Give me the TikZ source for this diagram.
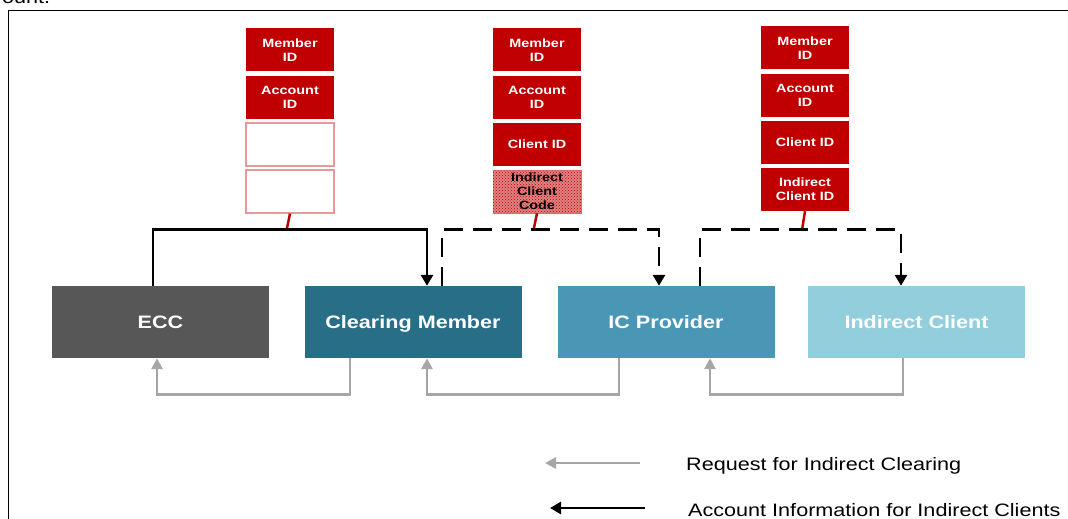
\documentclass[tikz,border=0pt]{standalone}
\usepackage{fontspec}
\setmainfont[FakeStretch=1.2]{Liberation Sans}
\usetikzlibrary{arrows.meta,patterns}
\definecolor{eccgray}{HTML}{575757}
\definecolor{cmblue}{HTML}{286E87}
\definecolor{icpblue}{HTML}{4A97B5}
\definecolor{icblue}{HTML}{93CEDD}
\definecolor{cellred}{HTML}{C00000}
\definecolor{linegray}{HTML}{A6A6A6}
\tikzset{
  party/.style={minimum width=217pt,minimum height=72pt,inner sep=0pt,text=white,
    text height=13pt,text depth=0pt,font=\fontsize{18}{20}\selectfont\bfseries},
  idcell/.style={minimum width=88pt,minimum height=43pt,inner sep=0pt,fill=cellred,
    text=white,align=center,font=\fontsize{12}{14}\selectfont\bfseries},
  blankcell/.style={idcell,fill=white,draw=cellred!40,line width=1.2pt},
  codecell/.style={idcell,text=black,fill=cellred!50,draw=cellred!55,
    postaction={pattern=crosshatch dots,pattern color=cellred}},
  info/.style={line width=2.8pt,-{Triangle[width=12pt,length=11pt]}},
  infodash/.style={info,dash pattern=on 19pt off 10pt},
  request/.style={linegray,line width=2.8pt,-{Triangle[width=11pt,length=11pt]}},
  idlink/.style={cellred,line width=2.5pt},
  legend/.style={inner sep=0pt,font=\fontsize{18}{20}\selectfont}
}
\begin{document}
\begin{tikzpicture}[x=1pt,y=-1pt]
\useasboundingbox (0,0) rectangle (1068,519);
\draw[line width=1.6pt] (8.5,560) rectangle (1100,10.5);
\node[legend,anchor=base west] (caption) at (2,4) {ount.};
%
\node[party,fill=eccgray] (ecc) at (160.5,322) {ECC};
\node[party,fill=cmblue] (cm) at (413,322) {Clearing Member};
\node[party,fill=icpblue] (icp) at (666,322) {IC Provider};
\node[party,fill=icblue] (ic) at (916.5,322) {Indirect Client};
%
\node[idcell] (ida1) at (290,50) {Member\\ID};
\node[idcell] (ida2) at (290,97.5) {Account\\ID};
\node[blankcell] (ida3) at (290,144.5) {};
\node[blankcell] (ida4) at (290,191.5) {};
\node[idcell] (idb1) at (537,50) {Member\\ID};
\node[idcell] (idb2) at (537,97.5) {Account\\ID};
\node[idcell] (idb3) at (537,144.5) {Client ID};
\node[codecell] (idb4) at (537,191.5) {Indirect\\Client\\Code};
\node[idcell] (idc1) at (805,48) {Member\\ID};
\node[idcell] (idc2) at (805,95.5) {Account\\ID};
\node[idcell] (idc3) at (805,142.5) {Client ID};
\node[idcell] (idc4) at (805,189.5) {Indirect\\Client ID};
%
\draw[idlink] (ida4.south) -- ++(-3.5,17);
\draw[idlink] (idb4.south) -- ++(-3.5,17);
\draw[idlink] (idc4.south) -- ++(-3,19);
%
\draw[info] ([xshift=-7.5pt]ecc.north) -- ++(0,-56) -| ([xshift=14pt]cm.north);
\draw[infodash] ([xshift=29pt]cm.north) -- ++(0,-56) -| ([xshift=-7pt]icp.north);
\draw[infodash] ([xshift=34pt]icp.north) -- ++(0,-56) -| ([xshift=-15.5pt]ic.north);
%
\draw[request] ([xshift=-63pt]cm.south) -- ++(0,36) -| ([xshift=-3.5pt]ecc.south);
\draw[request] ([xshift=-47pt]icp.south) -- ++(0,36) -| ([xshift=14pt]cm.south);
\draw[request] ([xshift=-13.5pt]ic.south) -- ++(0,36) -| ([xshift=44pt]icp.south);
%
\node[legend,anchor=base west] (reqtext) at (686,470) {Request for Indirect Clearing};
\node[legend,anchor=base west] (infotext) at (688,516) {Account Information for Indirect Clients};
\coordinate (reqtail) at (640,463);
\coordinate (reqhead) at (545,463);
\coordinate (infotail) at (645,508);
\coordinate (infohead) at (550,508);
\draw[request] (reqtail) -- (reqhead);
\draw[info] (infotail) -- (infohead);
\end{tikzpicture}
\end{document}
